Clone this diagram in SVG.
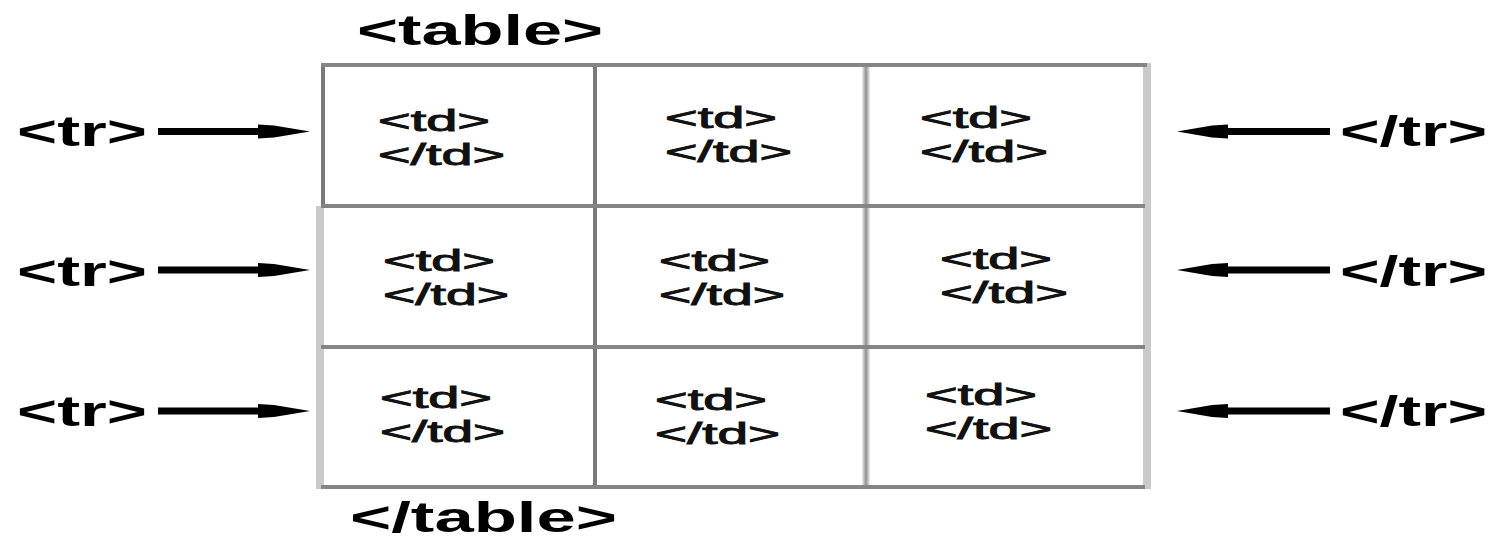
<svg xmlns="http://www.w3.org/2000/svg" width="1499" height="540" viewBox="0 0 1499 540">
<style>
.lbl{font-family:"Liberation Sans",Arial,sans-serif;font-weight:bold;font-size:42px;fill:#000}
.td{font-family:"Liberation Sans",Arial,sans-serif;font-weight:normal;font-size:29px;fill:#111;stroke:#111;stroke-width:0.9}
.hl{stroke:#858585;stroke-width:4;fill:none}
.vl{stroke:#7a7a7a;stroke-width:4;fill:none}
.lt{stroke:#cacaca;stroke-width:8;fill:none}
.arr{fill:#000}
</style>
<rect width="1499" height="540" fill="#fff"/>
<g id="table-grid">
  <line class="lt" x1="320" y1="206" x2="320" y2="489"/>
  <line class="lt" x1="1147" y1="63" x2="1147" y2="489"/>
  <line class="lt" x1="866" y1="65" x2="866" y2="487" style="stroke-width:7"/>
  <line class="vl" x1="866" y1="65" x2="866" y2="487" style="stroke:#9a9a9a;stroke-width:3"/>
  <line class="vl" x1="323" y1="63" x2="323" y2="208"/>
  <line class="vl" x1="595" y1="63" x2="595" y2="489"/>
  <line class="hl" x1="321" y1="65" x2="1147" y2="65"/>
  <line class="hl" x1="321" y1="206" x2="1145" y2="206"/>
  <line class="hl" x1="321" y1="347" x2="1145" y2="347"/>
  <line class="hl" x1="321" y1="487" x2="1145" y2="487"/>
</g>
<g id="label-table-open"><text class="lbl" x="357" y="45" textLength="246" lengthAdjust="spacingAndGlyphs">&lt;table&gt;</text></g>
<g id="label-table-close"><text class="lbl" x="350" y="532" textLength="267" lengthAdjust="spacingAndGlyphs">&lt;/table&gt;</text></g>
<g id="tr-open-1"><text class="lbl" x="17" y="146" textLength="130" lengthAdjust="spacingAndGlyphs">&lt;tr&gt;</text></g>
<g id="tr-open-2"><text class="lbl" x="17" y="286" textLength="130" lengthAdjust="spacingAndGlyphs">&lt;tr&gt;</text></g>
<g id="tr-open-3"><text class="lbl" x="17" y="426" textLength="130" lengthAdjust="spacingAndGlyphs">&lt;tr&gt;</text></g>
<g id="tr-close-1"><text class="lbl" x="1340" y="146" textLength="147" lengthAdjust="spacingAndGlyphs">&lt;/tr&gt;</text></g>
<g id="tr-close-2"><text class="lbl" x="1340" y="286" textLength="147" lengthAdjust="spacingAndGlyphs">&lt;/tr&gt;</text></g>
<g id="tr-close-3"><text class="lbl" x="1340" y="426" textLength="147" lengthAdjust="spacingAndGlyphs">&lt;/tr&gt;</text></g>
<g id="cell-1-1"><text class="td" x="378" y="131" textLength="112" lengthAdjust="spacingAndGlyphs">&lt;td&gt;</text><text class="td" x="378" y="165" textLength="127" lengthAdjust="spacingAndGlyphs">&lt;/td&gt;</text></g>
<g id="cell-1-2"><text class="td" x="665" y="128" textLength="112" lengthAdjust="spacingAndGlyphs">&lt;td&gt;</text><text class="td" x="665" y="162" textLength="127" lengthAdjust="spacingAndGlyphs">&lt;/td&gt;</text></g>
<g id="cell-1-3"><text class="td" x="920" y="128" textLength="112" lengthAdjust="spacingAndGlyphs">&lt;td&gt;</text><text class="td" x="920" y="162" textLength="128" lengthAdjust="spacingAndGlyphs">&lt;/td&gt;</text></g>
<g id="cell-2-1"><text class="td" x="383" y="271" textLength="112" lengthAdjust="spacingAndGlyphs">&lt;td&gt;</text><text class="td" x="383" y="305" textLength="126" lengthAdjust="spacingAndGlyphs">&lt;/td&gt;</text></g>
<g id="cell-2-2"><text class="td" x="659" y="271" textLength="111" lengthAdjust="spacingAndGlyphs">&lt;td&gt;</text><text class="td" x="659" y="305" textLength="126" lengthAdjust="spacingAndGlyphs">&lt;/td&gt;</text></g>
<g id="cell-2-3"><text class="td" x="940" y="269" textLength="112" lengthAdjust="spacingAndGlyphs">&lt;td&gt;</text><text class="td" x="940" y="303" textLength="128" lengthAdjust="spacingAndGlyphs">&lt;/td&gt;</text></g>
<g id="cell-3-1"><text class="td" x="380" y="408" textLength="112" lengthAdjust="spacingAndGlyphs">&lt;td&gt;</text><text class="td" x="380" y="442" textLength="125" lengthAdjust="spacingAndGlyphs">&lt;/td&gt;</text></g>
<g id="cell-3-2"><text class="td" x="655" y="410" textLength="112" lengthAdjust="spacingAndGlyphs">&lt;td&gt;</text><text class="td" x="655" y="444" textLength="125" lengthAdjust="spacingAndGlyphs">&lt;/td&gt;</text></g>
<g id="cell-3-3"><text class="td" x="925" y="405" textLength="112" lengthAdjust="spacingAndGlyphs">&lt;td&gt;</text><text class="td" x="925" y="439" textLength="127" lengthAdjust="spacingAndGlyphs">&lt;/td&gt;</text></g>
<g id="connectors">
  <path class="arr" d="M158,128 H258 L258,124.5 L274,125.5 L310,131.5 L274,137.5 L258,138.5 L258,135 H158 Z"/>
  <path class="arr" d="M158,266.5 H258 L258,263 L274,264 L310,270 L274,276 L258,277 L258,273.5 H158 Z"/>
  <path class="arr" d="M158,407.5 H258 L258,404 L274,405 L310,411 L274,417 L258,418 L258,414.5 H158 Z"/>
  <path class="arr" d="M1330,128 H1228 L1228,124.5 L1212,125.5 L1177,131.5 L1212,137.5 L1228,138.5 L1228,135 H1330 Z"/>
  <path class="arr" d="M1330,266.5 H1228 L1228,263 L1212,264 L1177,270 L1212,276 L1228,277 L1228,273.5 H1330 Z"/>
  <path class="arr" d="M1330,407.5 H1228 L1228,404 L1212,405 L1177,411 L1212,417 L1228,418 L1228,414.5 H1330 Z"/>
</g>
</svg>
